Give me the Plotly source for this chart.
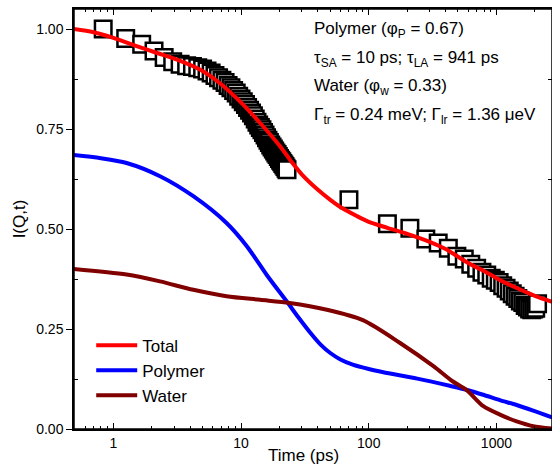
import math
import plotly.graph_objects as go

# ---- measured data (squares) ----
t_fast = [0.833, 1.25, 1.667, 2.083, 2.5, 2.917, 3.333, 3.75, 4.167, 4.583, 5.0, 5.417, 5.833, 6.25,
          6.667, 7.083, 7.5, 7.917, 8.333, 8.75, 9.167, 9.583, 10.0, 10.417, 10.833, 11.25, 11.667,
          12.083, 12.5, 12.917, 13.333, 13.75, 14.167, 14.583, 15.0, 15.417, 15.833, 16.25, 16.667,
          17.083, 17.5, 17.917, 18.333, 18.75, 19.167, 19.583, 20.0, 20.417, 20.833, 21.25, 21.667,
          22.083, 22.5, 22.917]
i_fast = [1.000, 0.976, 0.962, 0.945, 0.929, 0.918, 0.912, 0.908, 0.906, 0.903, 0.900, 0.895, 0.890,
          0.884, 0.878, 0.872, 0.866, 0.859, 0.853, 0.846, 0.840, 0.832, 0.825, 0.818, 0.811, 0.804,
          0.797, 0.790, 0.783, 0.775, 0.767, 0.760, 0.754, 0.748, 0.741, 0.735, 0.728, 0.722, 0.716,
          0.710, 0.705, 0.700, 0.695, 0.690, 0.686, 0.681, 0.676, 0.672, 0.668, 0.664, 0.660, 0.656,
          0.652, 0.648]

t_slow = [70, 140, 210, 280, 350, 420, 490, 560, 630, 700, 770, 840, 910, 980, 1050, 1120, 1190,
          1260, 1330, 1400, 1470, 1540, 1610, 1680, 1750, 1820, 1890, 1960, 2030, 2100]
i_slow = [0.573, 0.513, 0.502, 0.475, 0.465, 0.452, 0.432, 0.425, 0.412, 0.402, 0.392, 0.385, 0.377,
          0.372, 0.366, 0.358, 0.352, 0.345, 0.338, 0.332, 0.326, 0.320, 0.316, 0.309, 0.305, 0.300,
          0.298, 0.300, 0.302, 0.313]

# ---- model curves ----
t_total = [0.49, 0.7, 1.0, 1.5, 2.2, 3.3, 4.8, 6.8, 9.8, 14.1, 20.2, 25, 30, 40, 50, 60, 80, 100,
           140, 200, 300, 400, 600, 800, 1100, 1500, 2000, 2730]
i_total = [1.000, 0.992, 0.978, 0.958, 0.940, 0.921, 0.898, 0.865, 0.819, 0.765, 0.707, 0.667, 0.636,
           0.598, 0.573, 0.555, 0.533, 0.518, 0.503, 0.488, 0.468, 0.450, 0.415, 0.395, 0.370, 0.350,
           0.333, 0.318]

t_poly = [0.49, 0.8, 1.27, 2.32, 4.23, 7.7, 11.1, 15.9, 22.9, 28, 35, 42, 50, 60, 75, 100, 130,
          240, 430, 600, 800, 1065, 1440, 1940, 2730]
i_poly = [0.685, 0.677, 0.665, 0.632, 0.582, 0.515, 0.457, 0.385, 0.318, 0.280, 0.240, 0.211, 0.190,
          0.174, 0.161, 0.150, 0.142, 0.126, 0.108, 0.097, 0.085, 0.072, 0.060, 0.046, 0.029]

t_water = [0.49, 1.27, 2.32, 4.23, 7.7, 14.1, 24, 47, 90, 176, 321, 450, 585, 790, 1065, 1440, 1940, 2730]
i_water = [0.400, 0.386, 0.369, 0.348, 0.332, 0.323, 0.315, 0.298, 0.272, 0.215, 0.157, 0.120, 0.097,
           0.057, 0.036, 0.019, 0.007, 0.001]

x_ticks = [1, 10, 100, 1000]
x_labels = ["1", "10", "100", "1000"]
x_minor = [0.5, 0.6, 0.7, 0.8, 0.9, 2, 3, 4, 5, 6, 7, 8, 9, 20, 30, 40, 50, 60, 70, 80, 90,
           200, 300, 400, 500, 600, 700, 800, 900, 2000]
y_ticks = [0, 0.25, 0.5, 0.75, 1.0]
y_minor = [0.125, 0.375, 0.625, 0.875]

info_lines = [
    "Polymer (φ<sub>P</sub> = 0.67)",
    "τ<sub>SA</sub> = 10 ps; τ<sub>LA</sub> = 941 ps",
    "Water (φ<sub>w</sub> = 0.33)",
    "Γ<sub>tr</sub> = 0.24 meV; Γ<sub>lr</sub> = 1.36 μeV",
]

FONT = "Liberation Sans, Arial, sans-serif"

fig = go.Figure()
fig.add_trace(go.Scatter(
    x=t_fast + t_slow, y=i_fast + i_slow, mode="markers", showlegend=False,
    marker=dict(symbol="square", size=16.5, color="white", line=dict(color="black", width=2.5)),
))
fig.add_trace(go.Scatter(x=t_total, y=i_total, mode="lines", name="Total",
                         line=dict(color="#ff0000", width=4, shape="spline", smoothing=0.8)))
fig.add_trace(go.Scatter(x=t_poly, y=i_poly, mode="lines", name="Polymer",
                         line=dict(color="#0000ff", width=4, shape="spline", smoothing=0.8)))
fig.add_trace(go.Scatter(x=t_water, y=i_water, mode="lines", name="Water",
                         line=dict(color="#800000", width=4, shape="spline", smoothing=0.8)))

fig.update_layout(
    width=552, height=465,
    margin=dict(l=74, r=0, t=9, b=36),
    paper_bgcolor="white", plot_bgcolor="white",
    font=dict(family=FONT, color="black", size=14),
    xaxis=dict(
        type="log", range=[math.log10(0.492), math.log10(2724)],
        tickmode="array", tickvals=x_ticks, ticktext=x_labels,
        ticks="inside", ticklen=6, tickwidth=1, tickcolor="black",
        minor=dict(tickvals=x_minor, ticks="inside", ticklen=3, tickwidth=1, tickcolor="black", showgrid=False),
        showline=True, linecolor="black", linewidth=1.5, mirror="allticks",
        showgrid=False, zeroline=False,
        tickfont=dict(size=14),
        automargin=False,
    ),
    yaxis=dict(
        range=[0, 1.05],
        tickmode="array", tickvals=y_ticks, tickformat=".2f",
        ticks="outside", ticklen=6, tickwidth=1, tickcolor="black",
        minor=dict(tickvals=y_minor, ticks="inside", ticklen=4, tickwidth=1, tickcolor="black", showgrid=False),
        showline=True, linecolor="black", linewidth=1.5, mirror="allticks",
        showgrid=False, zeroline=False,
        tickfont=dict(size=14),
        title=dict(text="I(Q,t)", font=dict(size=17), standoff=6),
        automargin=False,
    ),
    legend=dict(
        x=0.036, y=0.139, xanchor="left", yanchor="middle",
        font=dict(size=17), bgcolor="rgba(0,0,0,0)", borderwidth=0,
        itemwidth=41, tracegroupgap=0,
    ),
    showlegend=True,
)

# plot frame
fig.add_shape(type="rect", xref="paper", yref="paper", x0=0, x1=1, y0=0, y1=1,
              line=dict(color="black", width=1.5), fillcolor="rgba(0,0,0,0)", layer="above")

# x-axis title
fig.add_annotation(text="Time (ps)", xref="paper", yref="paper", x=0.481, y=-0.062,
                   xanchor="center", yanchor="middle", showarrow=False,
                   font=dict(size=17, family=FONT, color="black"))

ys = [0.95, 0.882, 0.815, 0.746]
for txt, yy in zip(info_lines, ys):
    fig.add_annotation(text=txt, xref="paper", yref="paper", x=0.498, y=yy,
                       xanchor="left", yanchor="middle", showarrow=False,
                       font=dict(size=17, family=FONT, color="black"))

fig.write_html("out.html", config={"displayModeBar": False},
               post_script="document.body.style.margin='0';document.body.style.overflow='hidden';")
